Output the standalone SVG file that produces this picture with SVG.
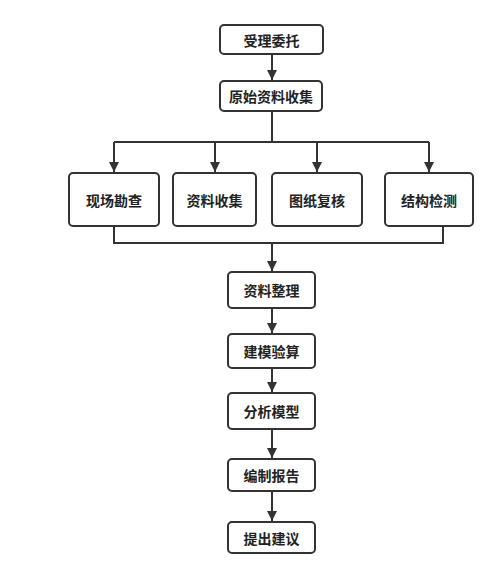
<svg xmlns="http://www.w3.org/2000/svg" width="500" height="579" viewBox="0 0 500 579">
<defs>
<marker id="arr" viewBox="0 0 10 10" refX="10" refY="5" markerWidth="10" markerHeight="10" markerUnits="userSpaceOnUse" orient="auto">
<path d="M0,0 L10,5 L0,10 z" fill="#333"/>
</marker>
<style>
.box{fill:#fff;stroke:#333;stroke-width:2}
.t{font-family:"Noto Sans CJK SC",sans-serif;font-size:14px;font-weight:bold;fill:#222;text-anchor:middle;dominant-baseline:central}
.c{fill:none;stroke:#333;stroke-width:2}
</style>
</defs>
<rect width="500" height="579" fill="#fff"/>
<g id="connectors">
<path class="c" d="M272,54 V80" marker-end="url(#arr)"/>
<path class="c" d="M272,111 V142 M114,142 H429"/>
<path class="c" d="M114,142 V172" marker-end="url(#arr)"/>
<path class="c" d="M215,142 V172" marker-end="url(#arr)"/>
<path class="c" d="M317,142 V172" marker-end="url(#arr)"/>
<path class="c" d="M429,142 V172" marker-end="url(#arr)"/>
<path class="c" d="M114,226 V243 H443 V226"/>
<path class="c" d="M272,243 V271" marker-end="url(#arr)"/>
<path class="c" d="M272,308 V333" marker-end="url(#arr)"/>
<path class="c" d="M272,368 V392" marker-end="url(#arr)"/>
<path class="c" d="M272,429 V458" marker-end="url(#arr)"/>
<path class="c" d="M272,491 V521" marker-end="url(#arr)"/>
</g>
<g id="n1"><rect class="box" x="220" y="25" width="103" height="29" rx="4"/><text class="t" x="271.5" y="39.5">受理委托</text></g>
<g id="n2"><rect class="box" x="220" y="81" width="102" height="30" rx="4"/><text class="t" x="271" y="96">原始资料收集</text></g>
<g id="n3"><rect class="box" x="69" y="173" width="90" height="53" rx="4"/><text class="t" x="114" y="199.5">现场勘查</text></g>
<g id="n4"><rect class="box" x="173" y="173" width="83" height="53" rx="4"/><text class="t" x="214.5" y="199.5">资料收集</text></g>
<g id="n5"><rect class="box" x="272" y="173" width="90" height="53" rx="4"/><text class="t" x="317" y="199.5">图纸复核</text></g>
<g id="n6"><rect class="box" x="385" y="173" width="88" height="53" rx="4"/><text class="t" x="429" y="199.5">结构检测</text></g>
<g id="n7"><rect class="box" x="228" y="272" width="87" height="36" rx="4"/><text class="t" x="271.5" y="290">资料整理</text></g>
<g id="n8"><rect class="box" x="228" y="334" width="87" height="34" rx="4"/><text class="t" x="271.5" y="351">建模验算</text></g>
<g id="n9"><rect class="box" x="228" y="393" width="87" height="36" rx="4"/><text class="t" x="271.5" y="411">分析模型</text></g>
<g id="n10"><rect class="box" x="228" y="459" width="87" height="32" rx="4"/><text class="t" x="271.5" y="475">编制报告</text></g>
<g id="n11"><rect class="box" x="228" y="522" width="87" height="31" rx="4"/><text class="t" x="271.5" y="537.5">提出建议</text></g>
</svg>
